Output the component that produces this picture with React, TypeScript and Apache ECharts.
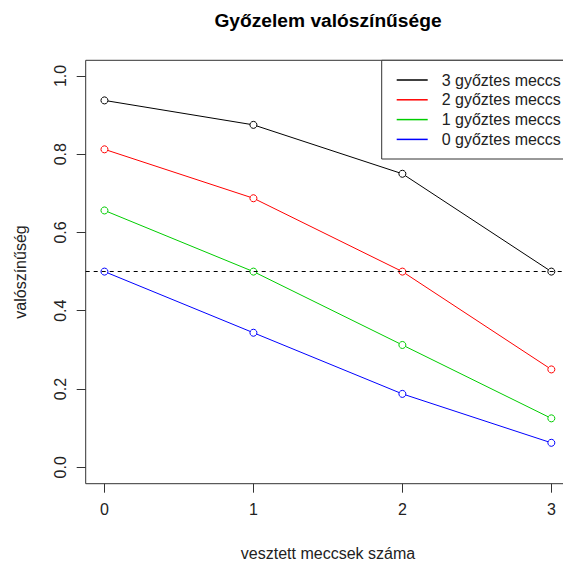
import React, { useEffect, useRef } from "react";
import * as echarts from "echarts";

const lostGames = [0, 1, 2, 3];
const wins3 = [0.9375, 0.875, 0.75, 0.5];
const wins2 = [0.8125, 0.6875, 0.5, 0.25];
const wins1 = [0.65625, 0.5, 0.3125, 0.125];
const wins0 = [0.5, 0.34375, 0.1875, 0.0625];
const seriesNames = ["3 győztes meccs", "2 győztes meccs", "1 győztes meccs", "0 győztes meccs"];
const seriesColors = ["#000000", "#FF0000", "#00CD00", "#0000FF"];
const xTicks = [0, 1, 2, 3];
const yTicks = [0, 0.2, 0.4, 0.6, 0.8, 1.0];
const refLine = 0.5;
const titleText = "Győzelem valószínűsége";
const xName = "vesztett meccsek száma";
const yName = "valószínűség";

const FONT = "'Liberation Sans', Arial, sans-serif";
const CHART_W = 576;

export default function App() {
  const ref = useRef<HTMLDivElement>(null);
  useEffect(() => {
    if (!ref.current) return;
    const chart = echarts.init(ref.current, undefined, { renderer: "svg" });
    const allSeries = [wins3, wins2, wins1, wins0];
    const series: any[] = allSeries.map((vals, i) => ({
      name: seriesNames[i],
      type: "line",
      data: lostGames.map((x, j) => [x, vals[j]]),
      symbol: "circle",
      symbolSize: 7,
      lineStyle: { width: 1, color: seriesColors[i] },
      itemStyle: { color: "#fff", borderColor: seriesColors[i], borderWidth: 1 },
      emphasis: { disabled: true },
      markLine:
        i === 0
          ? {
              silent: true,
              symbol: "none",
              label: { show: false },
              lineStyle: { type: [4, 4], color: "#000", width: 1 },
              data: [{ yAxis: refLine }],
            }
          : undefined,
    }));
    chart.setOption({
      animation: false,
      backgroundColor: "#fff",
      textStyle: { fontFamily: FONT },
      grid: {
        show: true,
        left: 85.7,
        top: 60.3,
        right: CHART_W - 570.1,
        bottom: 79.3,
        borderColor: "#333",
        borderWidth: 1,
        backgroundColor: "transparent",
      },
      xAxis: {
        type: "value",
        min: -0.126,
        max: 3.126,
        splitLine: { show: false },
        axisLine: { show: false, onZero: false },
        axisTick: { show: true, length: 9, customValues: xTicks, lineStyle: { color: "#333" } },
        axisLabel: {
          customValues: xTicks,
          margin: 18,
          fontSize: 16,
          color: "#222",
          fontFamily: FONT,
          formatter: (v: number) => String(v),
        },
      },
      yAxis: {
        type: "value",
        min: -0.042,
        max: 1.04,
        splitLine: { show: false },
        axisLine: { show: false, onZero: false },
        axisTick: { show: true, length: 9, customValues: yTicks, lineStyle: { color: "#333" } },
        axisLabel: {
          customValues: yTicks,
          rotate: 90,
          margin: 17,
          fontSize: 16,
          color: "#222",
          fontFamily: FONT,
          formatter: (v: number) => v.toFixed(1),
        },
      },
      legend: {
        show: true,
        orient: "vertical",
        left: 381.7,
        top: 60.3,
        data: seriesNames.map((n, i) => ({
          name: n,
          icon: "rect",
          itemStyle: { color: seriesColors[i], borderWidth: 0 },
        })),
        icon: "rect",
        itemWidth: 31,
        itemHeight: 1.5,
        itemGap: 3.8,
        borderColor: "#333",
        borderWidth: 1,
        backgroundColor: "#fff",
        padding: [11.7, 12, 11.6, 15],
        selectedMode: false,
        textStyle: { fontSize: 16, lineHeight: 16, color: "#222", fontFamily: FONT, padding: [0, 0, 0, 9] },
      },
      graphic: [
        {
          type: "text",
          x: 328,
          y: 20,
          style: {
            text: titleText,
            fontSize: 19.2,
            fontWeight: "bold",
            fontFamily: FONT,
            fill: "#000",
            align: "center",
            verticalAlign: "middle",
          },
        },
        {
          type: "text",
          x: 328,
          y: 553,
          style: {
            text: xName,
            fontSize: 16,
            fontFamily: FONT,
            fill: "#222",
            align: "center",
            verticalAlign: "middle",
          },
        },
        {
          type: "text",
          x: 20,
          y: 272,
          rotation: Math.PI / 2,
          style: {
            text: yName,
            fontSize: 16,
            fontFamily: FONT,
            fill: "#222",
            align: "center",
            verticalAlign: "middle",
          },
        },
      ],
      series,
    });
    return () => chart.dispose();
  }, []);
  return (
    <div style={{ position: "fixed", left: 0, top: 0, width: 563, height: 563, overflow: "hidden", background: "#fff" }}>
      <div ref={ref} style={{ width: CHART_W, height: 563 }} />
    </div>
  );
}
